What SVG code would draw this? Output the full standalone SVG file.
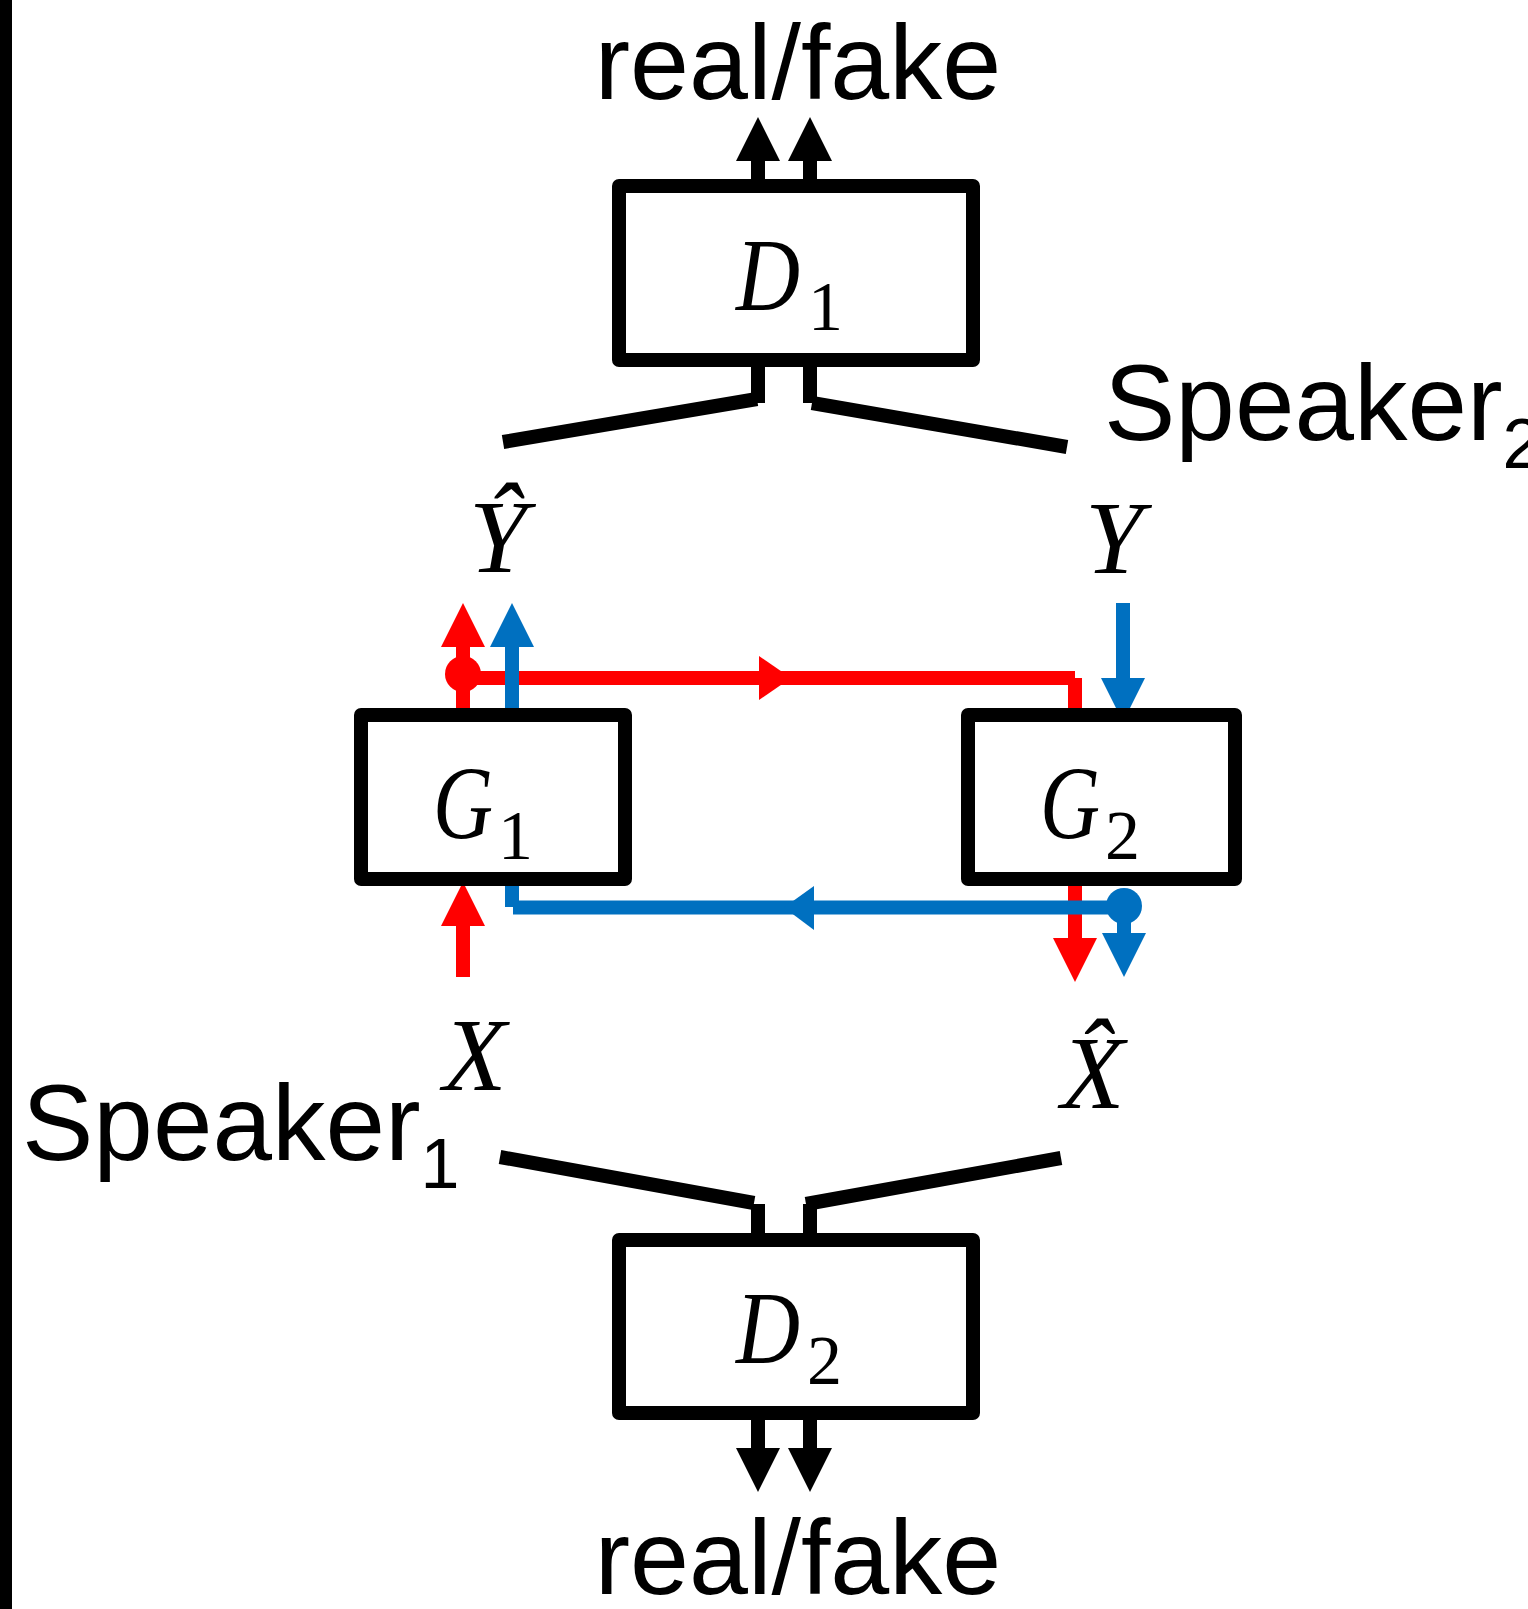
<svg xmlns="http://www.w3.org/2000/svg" width="1528" height="1609" viewBox="0 0 1528 1609">
<style>
.box{fill:#fff;stroke:#000;stroke-width:14;stroke-linejoin:round}
.k{stroke:#000;stroke-width:14;fill:none}
.r{stroke:#FF0000;stroke-width:14;fill:none}
.b{stroke:#0070C0;stroke-width:14;fill:none}
.sans{font-family:"Liberation Sans",Arial,sans-serif;font-size:106px;fill:#000}
.spk{font-size:107px}
.math{font-family:"Liberation Serif","Times New Roman",serif;font-style:italic;font-size:104px;fill:#000}
.sub{font-style:normal;font-size:70px}
</style>
<defs>
<marker id="ak" viewBox="0 -22 44 44" markerWidth="44" markerHeight="44" refX="0" refY="0" markerUnits="userSpaceOnUse" orient="auto"><path d="M0,-22 L44,0 L0,22 Z" fill="#000"/></marker>
<marker id="ar" viewBox="0 -22 44 44" markerWidth="44" markerHeight="44" refX="0" refY="0" markerUnits="userSpaceOnUse" orient="auto"><path d="M0,-22 L44,0 L0,22 Z" fill="#FF0000"/></marker>
<marker id="ab" viewBox="0 -22 44 44" markerWidth="44" markerHeight="44" refX="0" refY="0" markerUnits="userSpaceOnUse" orient="auto"><path d="M0,-22 L44,0 L0,22 Z" fill="#0070C0"/></marker>
</defs>
<rect x="0" y="0" width="1528" height="1609" fill="#fff"/>
<rect x="0" y="0" width="12" height="1609" fill="#000"/>

<g id="connectors">
<!-- D1 outputs -->
<line class="k" x1="758" y1="180" x2="758" y2="161" marker-end="url(#ak)"/>
<line class="k" x1="810" y1="180" x2="810" y2="161" marker-end="url(#ak)"/>
<!-- D1 inputs -->
<line class="k" x1="758" y1="366" x2="758" y2="403"/>
<line class="k" x1="810" y1="366" x2="810" y2="403"/>
<line class="k" x1="503" y1="442" x2="757" y2="399"/>
<line class="k" x1="812" y1="403" x2="1067" y2="447"/>
<!-- D2 inputs -->
<line class="k" x1="758" y1="1204" x2="758" y2="1234"/>
<line class="k" x1="810" y1="1204" x2="810" y2="1234"/>
<line class="k" x1="500" y1="1157" x2="754" y2="1203"/>
<line class="k" x1="806" y1="1204" x2="1061" y2="1158"/>
<!-- D2 outputs -->
<line class="k" x1="758" y1="1418" x2="758" y2="1448" marker-end="url(#ak)"/>
<line class="k" x1="810" y1="1418" x2="810" y2="1448" marker-end="url(#ak)"/>

<!-- red path -->
<line class="r" x1="463" y1="977" x2="463" y2="926" marker-end="url(#ar)"/>
<line class="r" x1="463" y1="709" x2="463" y2="647" marker-end="url(#ar)"/>
<line class="r" x1="463" y1="678" x2="1075" y2="678"/>
<line class="r" x1="1075" y1="678" x2="1075" y2="709"/>
<polygon points="759,656 759,700 791,678" fill="#FF0000"/>
<circle cx="463" cy="674" r="18" fill="#FF0000"/>
<line class="r" x1="1075" y1="885" x2="1075" y2="938" marker-end="url(#ar)"/>

<!-- blue path -->
<line class="b" x1="1123" y1="603" x2="1123" y2="678" marker-end="url(#ab)"/>
<line class="b" x1="1124" y1="906" x2="1124" y2="933" marker-end="url(#ab)"/>
<line class="b" x1="1124" y1="907.5" x2="513" y2="907.5"/>
<line class="b" x1="512" y1="885" x2="512" y2="907"/>
<polygon points="784,907.5 814,886 814,930" fill="#0070C0"/>
<circle cx="1124" cy="906" r="18" fill="#0070C0"/>
<line class="b" x1="512" y1="709" x2="512" y2="647" marker-end="url(#ab)"/>
</g>

<g id="D1">
<rect class="box" x="619" y="186" width="354" height="174"/>
<text class="math"><tspan x="736" y="310" textLength="64" lengthAdjust="spacingAndGlyphs">D</tspan><tspan class="sub" x="808" y="330">1</tspan></text>
</g>
<g id="D2">
<rect class="box" x="619" y="1240" width="354" height="173"/>
<text class="math"><tspan x="736" y="1363" textLength="64" lengthAdjust="spacingAndGlyphs">D</tspan><tspan class="sub" x="807" y="1384">2</tspan></text>
</g>
<g id="G1">
<rect class="box" x="361" y="715" width="264" height="164"/>
<text class="math"><tspan x="433" y="838" textLength="60" lengthAdjust="spacingAndGlyphs">G</tspan><tspan class="sub" x="498" y="859">1</tspan></text>
</g>
<g id="G2">
<rect class="box" x="968" y="715" width="267" height="164"/>
<text class="math"><tspan x="1040" y="838" textLength="60" lengthAdjust="spacingAndGlyphs">G</tspan><tspan class="sub" x="1105" y="859">2</tspan></text>
</g>

<g id="labels">
<text class="sans" x="798" y="99" text-anchor="middle">real/fake</text>
<text class="sans" x="798" y="1594" text-anchor="middle">real/fake</text>
<text class="sans spk" x="1104" y="440">Speaker<tspan font-size="70" y="468">2</tspan></text>
<text class="sans spk" x="22" y="1160">Speaker<tspan font-size="70" y="1188">1</tspan></text>
<text class="math" x="469" y="572">Ŷ</text>
<text class="math" x="1085" y="573">Y</text>
<text class="math" x="443" y="1090">X</text>
<text class="math" x="1061" y="1108">X̂</text>
</g>
</svg>
